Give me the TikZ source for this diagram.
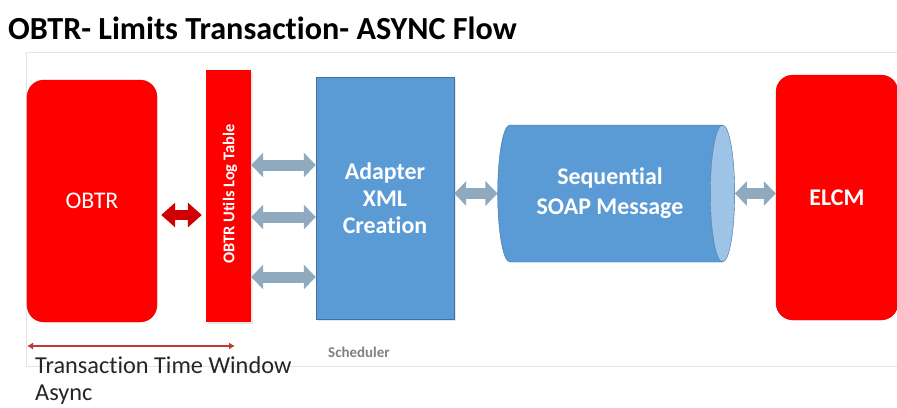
\documentclass[tikz,border=0pt]{standalone}
\usepackage{fontspec}
\setmainfont{Carlito}[Ligatures=CommonOff]
\usetikzlibrary{shapes.geometric, arrows.meta, shadows, positioning}

\definecolor{obtrred}{HTML}{FF0000}
\definecolor{redborder}{HTML}{E60000}
\definecolor{adblue}{HTML}{5B9BD5}
\definecolor{adborder}{HTML}{41719C}
\definecolor{capblue}{HTML}{9DC3E6}
\definecolor{linkgray}{HTML}{8FAABF}
\definecolor{linkred}{HTML}{D00000}
\definecolor{winred}{HTML}{BE3A34}
\definecolor{framegray}{HTML}{E4E4E4}
\definecolor{textgray}{HTML}{262626}

\tikzset{
  sysbox/.style={fill=obtrred, draw=redborder, rounded corners=17bp, text=white, inner sep=0pt},
  logbar/.style={fill=obtrred, draw=none, inner sep=0pt,
    drop shadow={opacity=0.18, shadow xshift=2bp, shadow yshift=-2bp}},
  procbox/.style={fill=adblue, draw=adborder, text=white, inner sep=0pt, align=center,
    drop shadow={opacity=0.18, shadow xshift=2bp, shadow yshift=-2bp}},
  bigbold/.style={font=\fontsize{24}{27}\selectfont\bfseries},
  graylink/.style={draw=linkgray, line width=11bp,
    {Triangle[length=12bp,width=24bp]}-{Triangle[length=12bp,width=24bp]}},
  redlink/.style={draw=linkred, line width=10bp,
    {Triangle[length=14bp,width=24bp]}-{Triangle[length=14bp,width=24bp]}},
}

\begin{document}
\begin{tikzpicture}[x=1bp, y=-1bp]
  \useasboundingbox (0,0) rectangle (897,407);
  \fill[white] (0,0) rectangle (897,407);
  \clip (0,0) rectangle (897,407);

  % frame of the slide picture
  \draw[framegray, line width=1bp] (26,366) |- (905,52);
  \draw[framegray, line width=1bp] (26,366) -- (905,366);

  \node[anchor=west, inner sep=0pt, font=\fontsize{32.3}{38}\selectfont\bfseries] (title) at (8,28)
    {OBTR- Limits Transaction- ASYNC Flow};

  \node[sysbox, minimum width=130bp, minimum height=242bp, font=\fontsize{24}{28}\selectfont] (obtr) at (92,201) {OBTR};
  \node[logbar, minimum width=45bp, minimum height=252bp] (logtable) at (228.5,196) {};
  \node[rotate=90, text=white, inner sep=0pt, font=\fontsize{16.5}{20}\selectfont\bfseries] (logtext) at (230,194)
    {OBTR Utils Log Table};
  \node[procbox, bigbold, minimum width=138bp, minimum height=242bp] (adapter) at (385,198)
    {Adapter\\XML\\Creation};
  \node[cylinder, shape aspect=0.48, draw=adborder, cylinder uses custom fill,
    cylinder body fill=adblue, cylinder end fill=capblue, text=white,
    align=center, inner sep=0pt, minimum height=237bp, minimum width=137bp,
    font=\fontsize{24}{30}\selectfont\bfseries] (soap) at (610,193.5)
    {Sequential\\SOAP Message};
  \node[sysbox, bigbold, minimum width=122bp, minimum height=245bp] (elcm) at (837,197.5) {ELCM};

  \node[anchor=west, inner sep=0pt, text=gray, font=\fontsize{15}{18}\selectfont\bfseries] (sched) at (328,352) {Scheduler};

  % connectors
  \draw[redlink, shorten <=4bp, shorten >=4bp] (obtr.east |- 0,215) -- (logtable.west |- 0,215);
  \foreach \yy in {165,217,277}
    \draw[graylink] (logtable.east |- 0,\yy) -- (adapter.west |- 0,\yy);
  \draw[graylink] (adapter.east |- soap.west) -- (soap.west);
  \draw[graylink] (soap.east) -- (elcm.west |- soap.east);

  % transaction window
  \coordinate (winl) at (27,346);
  \coordinate (winr) at (235,346);
  \draw[winred, line width=2.5bp, {Latex[length=6bp,width=7bp]}-{Latex[length=6bp,width=7bp]}] (winl) -- (winr);
  \node[anchor=west, inner sep=0pt, text=textgray, font=\fontsize{24.4}{28}\selectfont] (window) at (35,365)
    {Transaction Time Window};
  \node[anchor=west, inner sep=0pt, text=textgray, font=\fontsize{24.4}{28}\selectfont] (async) at (35,395) {Async};
\end{tikzpicture}
\end{document}
